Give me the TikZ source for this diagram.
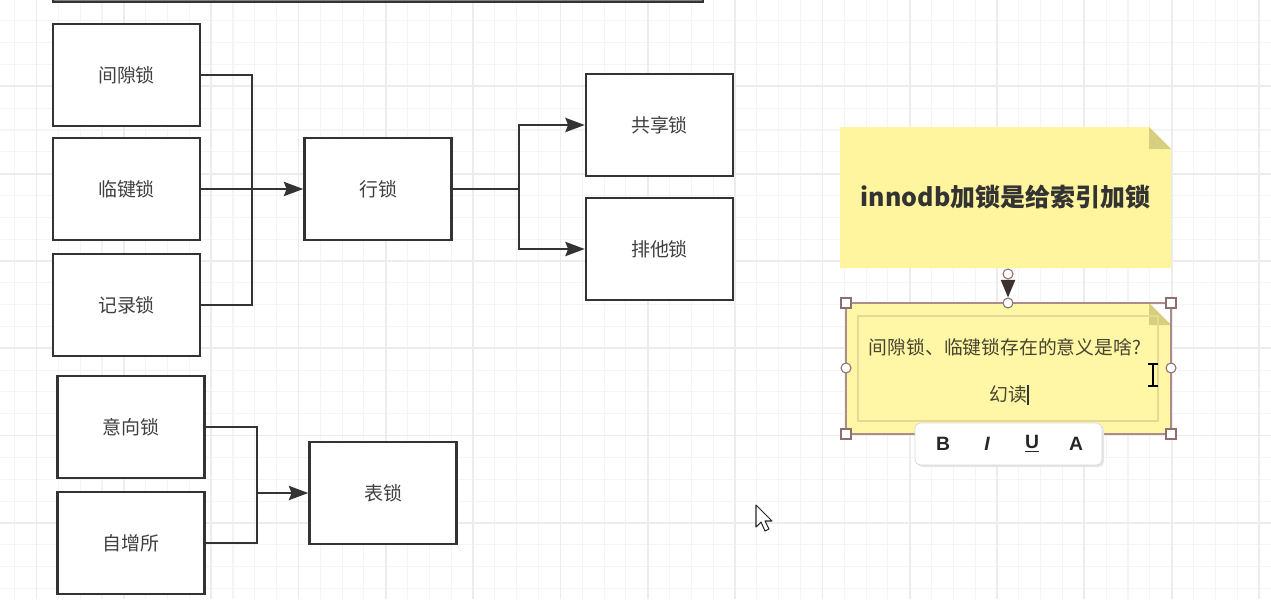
\documentclass[tikz,border=0pt]{standalone}
\usepackage{fontspec}
\newfontfamily\cjk{Noto Sans CJK SC}
\newfontfamily\uisans{Liberation Sans}
\usetikzlibrary{arrows.meta}

\definecolor{gridmin}{RGB}{244,244,244}
\definecolor{gridmaj}{RGB}{236,236,236}
\definecolor{notefill}{RGB}{255,245,158}
\definecolor{notefold}{RGB}{214,207,128}
\definecolor{editframe}{RGB}{232,216,150}
\definecolor{selcol}{RGB}{175,140,140}
\definecolor{linkdark}{RGB}{60,48,48}

\tikzset{
  lockbox/.style={draw=black!80, line width=1.4pt, fill=white,
    minimum width=2.94cm, minimum height=2.04cm, inner sep=0pt,
    text=black!75, font=\cjk\fontsize{10.8}{13}\selectfont},
  link/.style={draw=black!80, line width=1.5pt},
  arr/.style={link, -{Stealth[length=11pt,width=8pt,inset=1.5pt]}},
  handlesq/.style={draw=selcol!80!black, fill=white, line width=0.6pt,
    minimum size=0.2cm, inner sep=0pt},
  handlecirc/.style={draw=selcol!80!black, fill=white, line width=0.6pt,
    circle, minimum size=0.2cm, inner sep=0pt},
  tbtn/.style={font=\uisans\bfseries\fontsize{11}{13}\selectfont, text=black!85}
}

\begin{document}
\begin{tikzpicture}[x=0.02cm,y=-0.02cm]
\useasboundingbox (0,0) rectangle (1271,599);
\clip (0,0) rectangle (1271,599);
\fill[white] (0,0) rectangle (1271,599);

% grid
\def\gstep{21.83}
\foreach \i in {0,...,58}
  \draw[gridmin, line width=0.6pt] ({14.67+\i*\gstep},0) -- ({14.67+\i*\gstep},599);
\foreach \j in {0,...,28}
  \draw[gridmin, line width=0.6pt] (0,{-1+\j*\gstep}) -- (1271,{-1+\j*\gstep});
\foreach \i in {0,...,14}
  \draw[gridmaj, line width=1pt] ({36.5+\i*4*\gstep},0) -- ({36.5+\i*4*\gstep},599);
\foreach \j in {0,...,7}
  \draw[gridmaj, line width=1pt] (0,{-1+\j*4*\gstep}) -- (1271,{-1+\j*4*\gstep});

% top bar
\draw[fill=black!50, draw=black!80, line width=1pt] (53,-10) rectangle (703,2);

% row locks
\node[lockbox] (jianxi) at (126.5,75) {间隙锁};
\node[lockbox] (linjian) at (126.5,189) {临键锁};
\node[lockbox] (jilu) at (126.5,305) {记录锁};
\node[lockbox] (hang) at (378,189) {行锁};
\node[lockbox] (gongxiang) at (659.5,125) {共享锁};
\node[lockbox] (paita) at (659.5,249) {排他锁};

\coordinate (rj) at (252,189);
\draw[link] (jianxi.east) -| (rj);
\draw[link] (jilu.east) -| (rj);
\draw[arr] (linjian.east) -- (hang.west);

\coordinate (hs) at (519,189);
\draw[link] (hang.east) -- (hs);
\draw[arr] (hs) |- (gongxiang.west);
\draw[arr] (hs) |- (paita.west);

% table locks
\node[lockbox] (yixiang) at (131,427) {意向锁};
\node[lockbox] (zizeng) at (131,543) {自增所};
\node[lockbox] (biao) at (383,493) {表锁};

\coordinate (tj) at (257,493);
\draw[link] (yixiang.east) -| (tj);
\draw[link] (zizeng.east) -| (tj);
\draw[arr] (tj) -- (biao.west);

% note 1
\fill[notefill] (840,127) -- (1149,127) -- (1171,149) -- (1171,268) -- (840,268) -- cycle;
\fill[notefold] (1149,127) -- (1171,149) -- (1149,149) -- cycle;
\node[font=\cjk\bfseries\fontsize{14.2}{17}\selectfont, text=black!80] (note1) at (1005.5,197) {innodb加锁是给索引加锁};

% note 2
\fill[notefill!92!white] (846,303) -- (1149,303) -- (1171,325) -- (1171,434) -- (846,434) -- cycle;
\fill[notefold] (1149,303) -- (1171,325) -- (1149,325) -- cycle;
\draw[editframe, line width=1pt] (858,316) rectangle (1158,421);
\node[font=\cjk\fontsize{10.7}{13}\selectfont, text=black!65!olive] (q) at (1005,347) {间隙锁、临键锁存在的意义是啥?};
\node[font=\cjk\fontsize{10.7}{13}\selectfont, text=black!65!olive] (ans) at (1008,394) {幻读};
\draw[black!80, line width=0.8pt] (ans.east) ++(-0.1cm,-9) -- ++(0,20);

% selection
\draw[selcol, line width=0.6pt] (846,303) rectangle (1171,434);
\node[handlecirc] (htop) at (1008,303) {};
\node[handlecirc] (cstart) at (1008,274) {};
\draw[linkdark, line width=1.2pt, -{Triangle[length=10pt,width=8pt]}] (cstart.south) -- (htop.north);
\node[handlesq] (h1) at (846,303) {};
\node[handlesq] (h2) at (1171,303) {};
\node[handlesq] (h3) at (846,434) {};
\node[handlesq] (h4) at (1171,434) {};
\node[handlecirc] (h5) at (846,368) {};
\node[handlecirc] (h6) at (1171,368) {};

% toolbar
\fill[black!10, rounded corners=3pt] (917,425) rectangle (1104,467);
\draw[black!15, fill=white, rounded corners=3pt] (915,423) rectangle (1102,465);
\node[tbtn] (tb) at (943,444) {B};
\node[tbtn, font=\uisans\bfseries\itshape\fontsize{11}{13}\selectfont] (ti) at (987,444) {I};
\node[tbtn] (tu) at (1032,444) {\underline{U}};
\node[tbtn] (ta) at (1076,444) {A};

% cursors
\draw[black, line width=1.1pt] (1153,364) -- (1153,386)
  (1148,364) -- (1158,364) (1148,386) -- (1158,386);
\draw[black!85, fill=white, line width=0.6pt, line join=round]
  (756,505) -- (756,527) -- (761,522) -- (765,531) -- (769,529) -- (765,521) -- (772,521) -- cycle;
\end{tikzpicture}
\end{document}
